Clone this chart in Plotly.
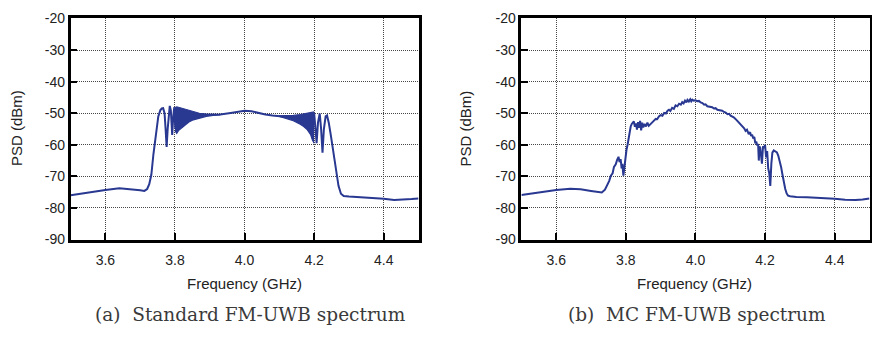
import plotly.graph_objects as go

# ---------------- data ----------------
# (a) Standard FM-UWB spectrum: main trace
freq_std = [3.50, 3.53, 3.56, 3.60, 3.64, 3.67, 3.70, 3.712, 3.720, 3.726,
            3.732, 3.738, 3.745, 3.752, 3.758, 3.762, 3.766, 3.770, 3.773, 3.776,
            3.779, 3.782, 3.785, 3.788, 3.792, 3.795, 3.798, 3.801, 3.81, 3.83,
            3.86, 3.90, 3.93, 3.96, 3.98, 4.00, 4.02, 4.04, 4.06, 4.08,
            4.10, 4.13, 4.16, 4.19, 4.200, 4.204, 4.207, 4.211, 4.216, 4.220,
            4.224, 4.228, 4.233, 4.237, 4.242, 4.248, 4.255, 4.260, 4.264, 4.270,
            4.277, 4.285, 4.30, 4.35, 4.40, 4.43, 4.46, 4.48, 4.50]
psd_std = [-76.0, -75.5, -74.8, -74.3, -73.8, -74.0, -74.4, -74.6, -74.0, -72.5,
           -69.5, -63.0, -56.0, -51.0, -49.0, -48.5, -48.4, -50.0, -55.0, -60.7,
           -55.0, -49.5, -47.7, -49.0, -56.9, -51.0, -48.1, -55.0, -51.5, -50.5,
           -50.5, -50.5, -50.4, -49.9, -49.5, -49.2, -49.4, -50.0, -50.4, -50.7,
           -50.9, -51.2, -51.6, -52.2, -50.0, -55.0, -59.5, -53.0, -50.1, -55.0,
           -62.5, -55.0, -51.0, -50.7, -53.0, -57.0, -62.0, -65.0, -69.0, -73.0,
           -75.5, -76.2, -76.4, -76.7, -77.1, -77.5, -77.4, -77.2, -77.0]

# dense ripple bands (upper / lower envelopes)
ripple1_freq = [3.800, 3.805, 3.81, 3.82, 3.83, 3.84, 3.85, 3.87, 3.89, 3.91, 3.93]
ripple1_hi = [-48.2, -48.0, -48.1, -48.4, -48.8, -49.2, -49.5, -50.0, -50.3, -50.4, -50.4]
ripple1_lo = [-55.5, -56.4, -55.5, -54.5, -53.6, -52.8, -52.2, -51.5, -51.0, -50.7, -50.5]
ripple2_freq = [4.10, 4.12, 4.14, 4.16, 4.17, 4.18, 4.19, 4.195, 4.20]
ripple2_hi = [-50.8, -50.8, -50.7, -50.4, -50.2, -50.0, -49.7, -49.5, -49.6]
ripple2_lo = [-51.0, -51.6, -52.4, -53.5, -54.2, -55.2, -56.8, -58.5, -59.5]

# (b) MC FM-UWB spectrum
freq_mc = [3.50, 3.53, 3.56, 3.60, 3.64, 3.67, 3.70, 3.731, 3.740, 3.747,
           3.752, 3.757, 3.762, 3.766, 3.771, 3.775, 3.779, 3.782, 3.785, 3.788,
           3.790, 3.793, 3.796, 3.798, 3.802, 3.805, 3.810, 3.814, 3.817, 3.820,
           3.823, 3.826, 3.829, 3.832, 3.835, 3.838, 3.841, 3.844, 3.847, 3.850,
           3.854, 3.858, 3.862, 3.866, 3.870, 3.876, 3.881, 3.886, 3.890, 3.895,
           3.900, 3.905, 3.910, 3.915, 3.920, 3.924, 3.928, 3.933, 3.938, 3.943,
           3.948, 3.953, 3.958, 3.962, 3.966, 3.970, 3.974, 3.977, 3.981, 3.985,
           3.988, 3.991, 3.995, 4.000, 4.005, 4.010, 4.015, 4.020, 4.025, 4.029,
           4.034, 4.039, 4.044, 4.048, 4.053, 4.058, 4.063, 4.067, 4.072, 4.077,
           4.082, 4.087, 4.092, 4.097, 4.101, 4.105, 4.110, 4.115, 4.120, 4.125,
           4.130, 4.135, 4.140, 4.144, 4.148, 4.153, 4.157, 4.160, 4.163, 4.166,
           4.169, 4.172, 4.175, 4.177, 4.180, 4.182, 4.184, 4.186, 4.188, 4.191,
           4.194, 4.197, 4.200, 4.203, 4.206, 4.209, 4.212, 4.215, 4.218, 4.221,
           4.225, 4.229, 4.234, 4.238, 4.242, 4.246, 4.250, 4.254, 4.258, 4.262,
           4.266, 4.272, 4.280, 4.29, 4.32, 4.36, 4.40, 4.43, 4.46, 4.48,
           4.50]
psd_mc = [-75.9, -75.4, -74.8, -74.3, -73.9, -74.1, -74.6, -75.1, -74.2, -72.8,
          -71.5, -69.8, -69.0, -67.0, -66.2, -64.8, -63.8, -65.5, -64.5, -67.5,
          -66.0, -69.8, -66.5, -64.0, -61.5, -60.0, -56.0, -54.2, -53.4, -53.0,
          -52.6, -54.3, -53.2, -55.2, -52.8, -54.6, -52.4, -55.4, -53.0, -54.5,
          -53.4, -54.2, -53.0, -54.0, -53.5, -53.0, -52.3, -51.8, -51.9, -51.0,
          -50.6, -50.8, -49.9, -50.1, -49.2, -48.9, -49.3, -48.3, -48.6, -47.5,
          -47.8, -47.0, -47.3, -46.5, -46.9, -46.0, -46.6, -45.8, -46.3, -45.6,
          -46.2, -45.7, -46.0, -45.9, -46.2, -46.1, -46.6, -46.8, -47.3, -47.2,
          -47.8, -47.9, -48.2, -48.1, -48.5, -48.4, -48.9, -49.0, -49.3, -49.2,
          -49.6, -49.8, -50.3, -50.2, -50.8, -51.0, -51.3, -51.8, -52.4, -52.8,
          -53.5, -54.2, -54.8, -55.6, -55.2, -56.6, -56.0, -57.2, -56.8, -58.0,
          -57.5, -59.5, -59.0, -60.2, -59.8, -65.0, -60.5, -61.0, -62.5, -66.0,
          -60.5, -61.0, -60.0, -64.0, -62.0, -67.5, -69.0, -73.0, -66.0, -62.5,
          -61.8, -62.0, -62.4, -63.5, -65.0, -67.0, -69.5, -72.0, -74.0, -75.4,
          -76.1, -76.3, -76.4, -76.5, -76.6, -76.8, -77.1, -77.4, -77.5, -77.3,
          -77.0]

x_tick_vals = [3.6, 3.8, 4.0, 4.2, 4.4]
x_tick_text = ["3.6", "3.8", "4.0", "4.2", "4.4"]
y_tick_vals = [-90, -80, -70, -60, -50, -40, -30, -20]
y_tick_text = ["-90", "-80", "-70", "-60", "-50", "-40", "-30", "-20"]

x_title = "Frequency (GHz)"
y_title = "PSD (dBm)"
captions = ["(a)\u00a0\u00a0Standard FM-UWB spectrum", "(b)\u00a0\u00a0MC FM-UWB spectrum"]

# ---------------- figure ----------------
W, H = 872, 339
LINE = "rgb(41,56,145)"

fig = go.Figure()
line_style = dict(color=LINE, width=2)

fig.add_trace(go.Scatter(x=freq_std, y=psd_std, mode="lines", line=line_style,
                         xaxis="x", yaxis="y", showlegend=False))
for rf, hi, lo in [(ripple1_freq, ripple1_hi, ripple1_lo),
                   (ripple2_freq, ripple2_hi, ripple2_lo)]:
    fig.add_trace(go.Scatter(x=rf, y=hi, mode="lines", line=dict(color=LINE, width=1.2),
                             xaxis="x", yaxis="y", showlegend=False))
    fig.add_trace(go.Scatter(x=rf, y=lo, mode="lines", line=dict(color=LINE, width=1.2),
                             fill="tonexty", fillcolor=LINE,
                             xaxis="x", yaxis="y", showlegend=False))
fig.add_trace(go.Scatter(x=freq_mc, y=psd_mc, mode="lines", line=line_style,
                         xaxis="x2", yaxis="y2", showlegend=False))

def px_x(p):
    return p / W

def px_y(p):
    return 1 - p / H

axis_common = dict(
    showline=True, linecolor="black", linewidth=2.5, mirror=True,
    ticks="inside", ticklen=7, tickwidth=2, tickcolor="black",
    showgrid=True, gridcolor="rgb(70,70,70)", gridwidth=1, griddash="1px,1px",
    zeroline=False,
    tickfont=dict(family="Liberation Sans, Arial, sans-serif", size=14, color="#222"),
)

left_dom = [px_x(70.7), px_x(419)]
right_dom = [px_x(522), px_x(870.5)]
y_dom = [px_y(243), px_y(11)]

fig.update_layout(
    width=W, height=H,
    margin=dict(l=0, r=0, t=0, b=0),
    paper_bgcolor="white", plot_bgcolor="white",
    xaxis=dict(domain=left_dom, range=[3.5, 4.5], anchor="y",
               tickvals=x_tick_vals, ticktext=x_tick_text, ticklabelstandoff=6, **axis_common),
    yaxis=dict(domain=y_dom, range=[-90, -20], anchor="x",
               tickvals=y_tick_vals, ticktext=y_tick_text, ticklabelstandoff=0, **axis_common),
    xaxis2=dict(domain=right_dom, range=[3.5, 4.5], anchor="y2",
                tickvals=x_tick_vals, ticktext=x_tick_text, ticklabelstandoff=6, **axis_common),
    yaxis2=dict(domain=y_dom, range=[-90, -20], anchor="x2",
                tickvals=y_tick_vals, ticktext=y_tick_text, ticklabelstandoff=0, **axis_common),
)

sans = dict(family="Liberation Sans, Arial, sans-serif", size=15, color="#222")
serif = dict(family="DejaVu Serif, serif", size=18.5, color="#3a3a3a")
ann = []
for cx_title, cx_y in [(245, 16), (695, 466)]:
    ann.append(dict(text=x_title, x=px_x(cx_title), y=px_y(289.5), xref="paper", yref="paper",
                    showarrow=False, font=sans, xanchor="center", yanchor="middle"))
    ann.append(dict(text=y_title, x=px_x(cx_y), y=px_y(126), xref="paper", yref="paper",
                    showarrow=False, font=sans, textangle=-90, xanchor="center", yanchor="middle"))
ann.append(dict(text=captions[0], x=px_x(250.5), y=px_y(322), xref="paper", yref="paper",
                showarrow=False, font=serif, xanchor="center", yanchor="middle"))
ann.append(dict(text=captions[1], x=px_x(697.5), y=px_y(322), xref="paper", yref="paper",
                showarrow=False, font=serif, xanchor="center", yanchor="middle"))
fig.update_layout(annotations=ann)

fig.write_html("out.html")
